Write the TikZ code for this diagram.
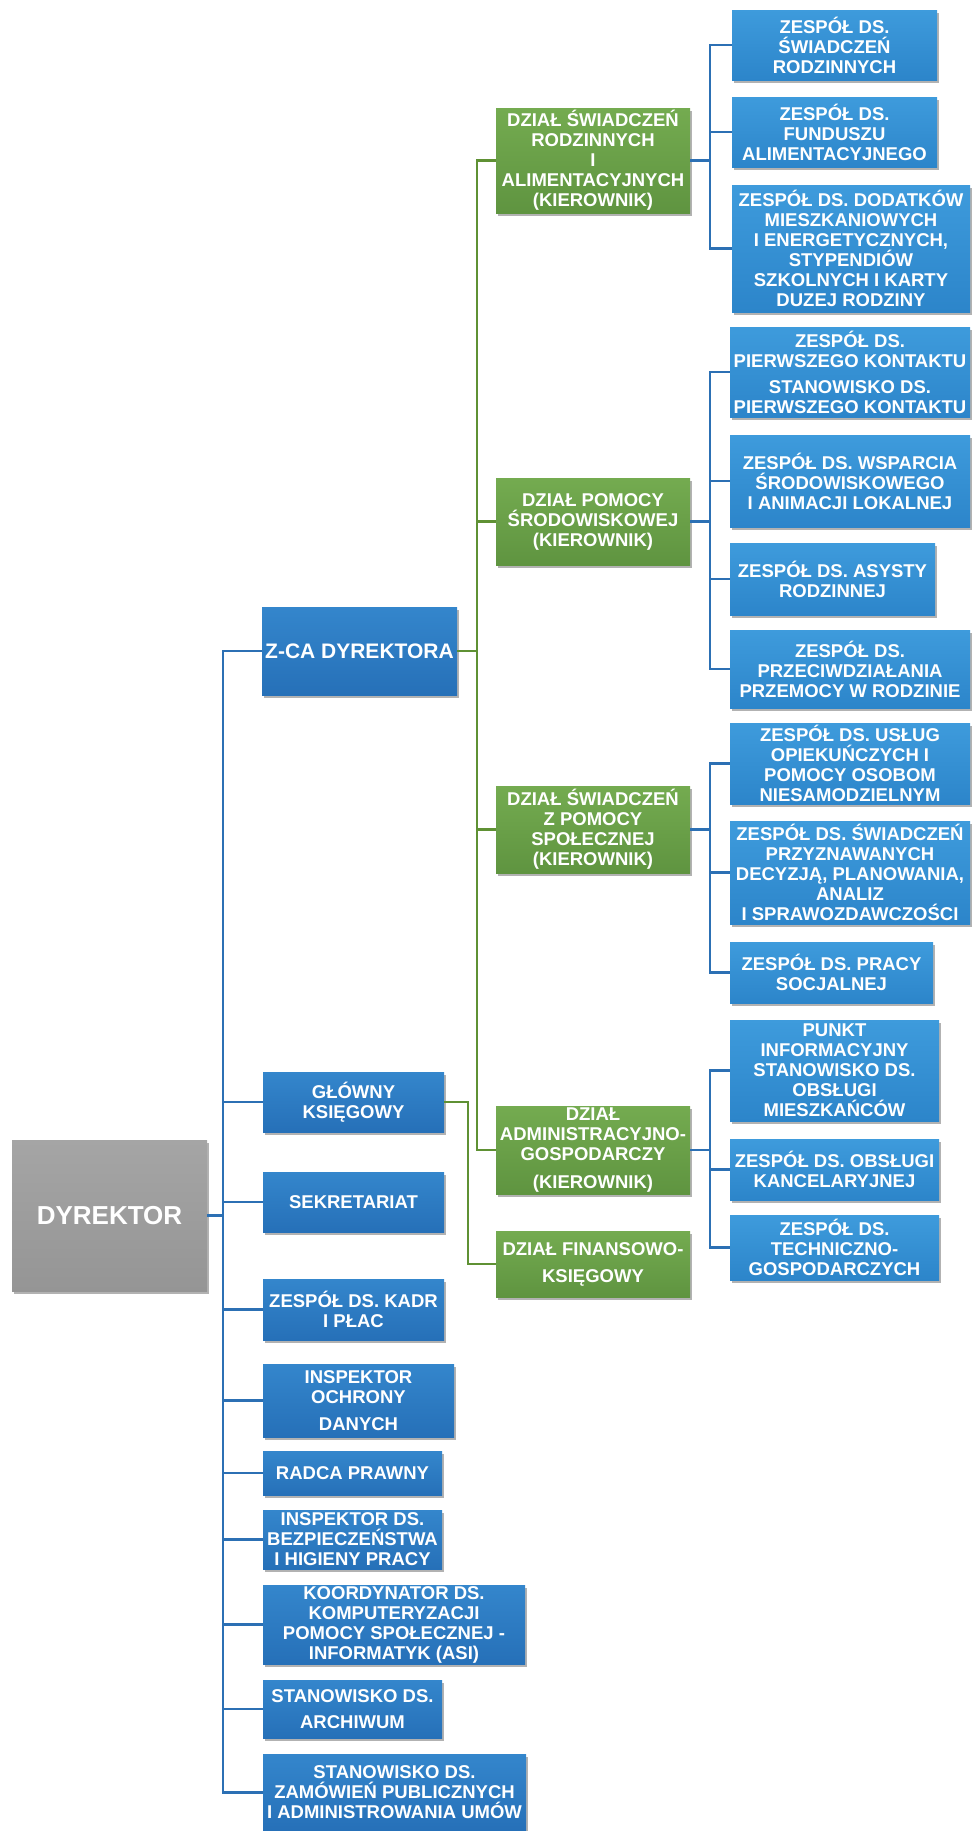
\documentclass[tikz,border=0pt]{standalone}
\usepackage{fontspec}
\setmainfont{Liberation Sans}
\usepackage{tikz}
\usetikzlibrary{shadows}
\definecolor{blueT}{HTML}{3486CC}
\definecolor{blueB}{HTML}{2670B8}
\definecolor{lightT}{HTML}{3E9BDC}
\definecolor{lightB}{HTML}{2C85CA}
\definecolor{greenT}{HTML}{74AB50}
\definecolor{greenB}{HTML}{5F9440}
\definecolor{greyT}{HTML}{A5A5A5}
\definecolor{greyB}{HTML}{959595}
\definecolor{blueline}{HTML}{2C70B4}
\definecolor{greenline}{HTML}{5F9134}

\begin{document}
\begin{tikzpicture}[x=1pt,y=-1pt,
  box/.style={rectangle,text=white,align=center,inner sep=1pt,
    font=\fontsize{18.5}{20}\selectfont\bfseries,
    drop shadow={shadow xshift=2pt,shadow yshift=-3pt,opacity=0.3,fill=black}},
  bluebox/.style={box,top color=blueT,bottom color=blueB},
  lightbox/.style={box,top color=lightT,bottom color=lightB},
  greenbox/.style={box,top color=greenT,bottom color=greenB},
  greybox/.style={box,top color=greyT,bottom color=greyB},
  wh/.style 2 args={minimum width=#1pt,minimum height=#2pt},
  bline/.style={draw=blueline,line width=2.4pt},
  gline/.style={draw=greenline,line width=2.2pt}]
  \useasboundingbox (0,0) rectangle (972,1831);

  \coordinate (bt) at (223,0);
  \coordinate (gt) at (477,0);
  \coordinate (gk) at (468,0);
  \coordinate (st) at (710,0);

  \node[greybox,wh={195}{151},font=\fontsize{26}{30}\selectfont\bfseries] (dyr) at (109.5,1215.5) {DYREKTOR};

  \node[bluebox,wh={195}{88},font=\fontsize{21}{24}\selectfont\bfseries] (zca) at (359.5,651) {Z-CA DYREKTORA};
  \node[bluebox,wh={181}{60}] (glow) at (353.5,1102) {GŁÓWNY\\KSIĘGOWY};
  \node[bluebox,wh={181}{60}] (sekr) at (353.5,1202) {SEKRETARIAT};
  \node[bluebox,wh={181}{61}] (kadr) at (353.5,1309.5) {ZESPÓŁ DS. KADR\\I PŁAC};
  \node[bluebox,wh={191}{73}] (iod) at (358.5,1400.5) {INSPEKTOR\\OCHRONY\\[7pt]DANYCH};
  \node[bluebox,wh={179}{44}] (radca) at (352.5,1473) {RADCA PRAWNY};
  \node[bluebox,wh={179}{59}] (bhp) at (352.5,1539.5) {INSPEKTOR DS.\\BEZPIECZEŃSTWA\\I HIGIENY PRACY};
  \node[bluebox,wh={262}{79}] (koord) at (394,1624.5) {KOORDYNATOR DS.\\KOMPUTERYZACJI\\POMOCY SPOŁECZNEJ -\\INFORMATYK (ASI)};
  \node[bluebox,wh={179}{58}] (arch) at (352.5,1709) {STANOWISKO DS.\\[6pt]ARCHIWUM};
  \node[bluebox,wh={263}{77}] (zam) at (394.5,1792.5) {STANOWISKO DS.\\ZAMÓWIEŃ PUBLICZNYCH\\I ADMINISTROWANIA UMÓW};

  \node[greenbox,wh={194}{105}] (dsr) at (593,160.5) {DZIAŁ ŚWIADCZEŃ\\RODZINNYCH\\I\\ALIMENTACYJNYCH\\(KIEROWNIK)};
  \node[greenbox,wh={194}{87}] (dps) at (593,521.5) {DZIAŁ POMOCY\\ŚRODOWISKOWEJ\\(KIEROWNIK)};
  \node[greenbox,wh={194}{87}] (dsp) at (593,829.5) {DZIAŁ ŚWIADCZEŃ\\Z POMOCY\\SPOŁECZNEJ\\(KIEROWNIK)};
  \node[greenbox,wh={194}{88}] (dag) at (593,1150) {DZIAŁ\\ADMINISTRACYJNO-\\GOSPODARCZY\\[8pt](KIEROWNIK)};
  \node[greenbox,wh={194}{66}] (dfk) at (593,1264) {DZIAŁ FINANSOWO-\\[7pt]KSIĘGOWY};

  \node[lightbox,wh={205}{70}] (z1) at (834.5,45) {ZESPÓŁ DS.\\ŚWIADCZEŃ\\RODZINNYCH};
  \node[lightbox,wh={205}{70}] (z2) at (834.5,132) {ZESPÓŁ DS.\\FUNDUSZU\\ALIMENTACYJNEGO};
  \node[lightbox,wh={238}{127}] (z3) at (851,248.5) {ZESPÓŁ DS. DODATKÓW\\MIESZKANIOWYCH\\I ENERGETYCZNYCH,\\STYPENDIÓW\\SZKOLNYCH I KARTY\\DUZEJ RODZINY};
  \node[lightbox,wh={240}{90}] (z4) at (850,372) {ZESPÓŁ DS.\\PIERWSZEGO KONTAKTU\\[6pt]STANOWISKO DS.\\PIERWSZEGO KONTAKTU};
  \node[lightbox,wh={240}{92}] (z5) at (850,481) {ZESPÓŁ DS. WSPARCIA\\ŚRODOWISKOWEGO\\I ANIMACJI LOKALNEJ};
  \node[lightbox,wh={205}{72}] (z6) at (832.5,579) {ZESPÓŁ DS. ASYSTY\\RODZINNEJ};
  \node[lightbox,wh={240}{78}] (z7) at (850,669) {ZESPÓŁ DS.\\PRZECIWDZIAŁANIA\\PRZEMOCY W RODZINIE};
  \node[lightbox,wh={240}{81}] (z8) at (850,763.5) {ZESPÓŁ DS. USŁUG\\OPIEKUŃCZYCH I\\POMOCY OSOBOM\\NIESAMODZIELNYM};
  \node[lightbox,wh={240}{103}] (z9) at (850,872.5) {ZESPÓŁ DS. ŚWIADCZEŃ\\PRZYZNAWANYCH\\DECYZJĄ, PLANOWANIA,\\ANALIZ\\I SPRAWOZDAWCZOŚCI};
  \node[lightbox,wh={203}{61}] (z10) at (831.5,972.5) {ZESPÓŁ DS. PRACY\\SOCJALNEJ};
  \node[lightbox,wh={209}{101}] (z11) at (834.5,1070.5) {PUNKT\\INFORMACYJNY\\STANOWISKO DS.\\OBSŁUGI\\MIESZKAŃCÓW};
  \node[lightbox,wh={209}{61}] (z12) at (834.5,1169.5) {ZESPÓŁ DS. OBSŁUGI\\KANCELARYJNEJ};
  \node[lightbox,wh={209}{65}] (z13) at (834.5,1247.5) {ZESPÓŁ DS.\\TECHNICZNO-\\GOSPODARCZYCH};

  \draw[bline] (dyr.east) -- (dyr.east -| bt);
  \draw[bline] (zca.west) -- (zca.west -| bt) -- (zam.west -| bt) -- (zam.west);
  \foreach \n in {glow,sekr,kadr,iod,radca,bhp,koord,arch}
    \draw[bline] (\n.west -| bt) -- (\n.west);

  \draw[gline] (zca.east) -- (zca.east -| gt);
  \draw[gline] (dsr.west) -- (dsr.west -| gt) -- (dag.west -| gt) -- (dag.west);
  \foreach \n in {dps,dsp}
    \draw[gline] (\n.west -| gt) -- (\n.west);
  \draw[gline] (glow.east) -- (glow.east -| gk) -- (gk |- dfk.west) -- (dfk.west);

  \draw[bline] (dsr.east) -- (dsr.east -| st);
  \draw[bline] (z1.west) -- (z1.west -| st) -- (z3.west -| st) -- (z3.west);
  \draw[bline] (z2.west -| st) -- (z2.west);

  \draw[bline] (dps.east) -- (dps.east -| st);
  \draw[bline] (z4.west) -- (z4.west -| st) -- (z7.west -| st) -- (z7.west);
  \foreach \n in {z5,z6}
    \draw[bline] (\n.west -| st) -- (\n.west);

  \draw[bline] (dsp.east) -- (dsp.east -| st);
  \draw[bline] (z8.west) -- (z8.west -| st) -- (z10.west -| st) -- (z10.west);
  \draw[bline] (z9.west -| st) -- (z9.west);

  \draw[bline] (dag.east) -- (dag.east -| st);
  \draw[bline] (z11.west) -- (z11.west -| st) -- (z13.west -| st) -- (z13.west);
  \draw[bline] (z12.west -| st) -- (z12.west);
\end{tikzpicture}
\end{document}
